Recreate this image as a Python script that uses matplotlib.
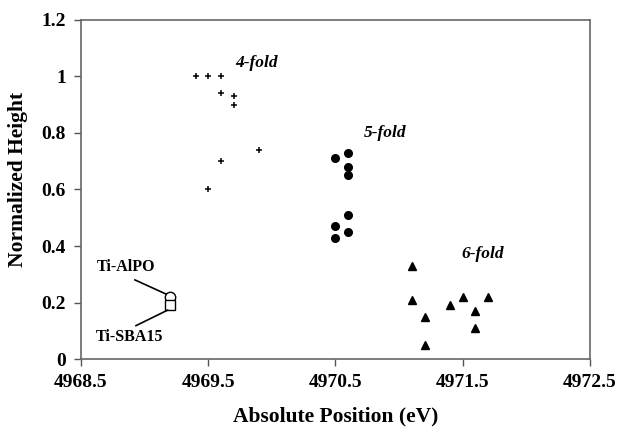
import matplotlib
matplotlib.use('Agg')
import matplotlib.pyplot as plt

# 4-fold (plus markers)
four_x = [4969.4, 4969.5, 4969.6, 4969.6, 4969.7, 4969.7, 4969.9, 4969.6, 4969.5]
four_y = [1.00, 1.00, 1.00, 0.94, 0.93, 0.90, 0.74, 0.70, 0.60]

# 5-fold (filled circles)
five_x = [4970.5, 4970.6, 4970.6, 4970.6, 4970.6, 4970.5, 4970.6, 4970.5]
five_y = [0.71, 0.73, 0.68, 0.65, 0.51, 0.47, 0.45, 0.43]

# 6-fold (filled triangles)
six_x = [4971.1, 4971.1, 4971.2, 4971.2, 4971.4, 4971.5, 4971.6, 4971.6, 4971.7]
six_y = [0.33, 0.21, 0.15, 0.05, 0.19, 0.22, 0.17, 0.11, 0.22]

# reference samples
alpo_x, alpo_y = [4969.2], [0.22]
sba_x, sba_y = [4969.2], [0.19]

x_ticks = [4968.5, 4969.5, 4970.5, 4971.5, 4972.5]
x_ticklabels = ['4968.5', '4969.5', '4970.5', '4971.5', '4972.5']
y_ticks = [0, 0.2, 0.4, 0.6, 0.8, 1.0, 1.2]
y_ticklabels = ['0', '0.2', '0.4', '0.6', '0.8', '1', '1.2']

plt.rcParams['font.family'] = ['Liberation Serif', 'DejaVu Serif']
plt.rcParams['font.weight'] = 'bold'

fig = plt.figure(figsize=(6.2, 4.28), dpi=100)
ax = fig.add_axes([0.1306, 0.1612, 0.821, 0.7921])

ax.plot(four_x, four_y, '+', color='black', ms=5, mew=1.1, ls='none')
ax.plot(five_x, five_y, 'o', color='black', ms=5.5, ls='none')
ax.plot(six_x, six_y, '^', color='black', ms=5.5, ls='none')
ax.plot(alpo_x, alpo_y, 'o', mfc='white', mec='black', ms=7.5, mew=1.0, ls='none')
ax.plot(sba_x, sba_y, 's', mfc='white', mec='black', ms=7, mew=1.0, ls='none')

ax.text(4969.88, 1.047, '4-fold', fontsize=12.5, fontweight='bold', style='italic',
        ha='center', va='center')
ax.text(4970.89, 0.80, '5-fold', fontsize=12.5, fontweight='bold', style='italic',
        ha='center', va='center')
ax.text(4971.66, 0.372, '6-fold', fontsize=12.5, fontweight='bold', style='italic',
        ha='center', va='center')

ax.text(4968.854, 0.326, 'Ti-AlPO', fontsize=11.5, fontweight='bold', ha='center', va='center')
ax.text(4968.885, 0.077, 'Ti-SBA15', fontsize=11.5, fontweight='bold', ha='center', va='center')
ax.plot([4968.924, 4969.168], [0.280, 0.230], color='black', lw=1.2)
ax.plot([4968.932, 4969.181], [0.118, 0.173], color='black', lw=1.2)

ax.set_xlim(4968.5, 4972.5)
ax.set_ylim(0, 1.2)
ax.set_xticks(x_ticks)
ax.set_xticklabels(x_ticklabels)
ax.set_yticks(y_ticks)
ax.set_yticklabels(y_ticklabels)
ax.tick_params(axis='both', labelsize=14, length=5, width=1, color='#555555', pad=6)

for s in ax.spines.values():
    s.set_color('#666666')
    s.set_linewidth(1.2)

ax.set_xlabel('Absolute Position (eV)', fontsize=15.5, fontweight='bold', labelpad=11)
ax.set_ylabel('Normalized Height', fontsize=15.5, fontweight='bold')
ax.yaxis.set_label_coords(-0.105, 0.53)

fig.savefig('out.png', dpi=100)
